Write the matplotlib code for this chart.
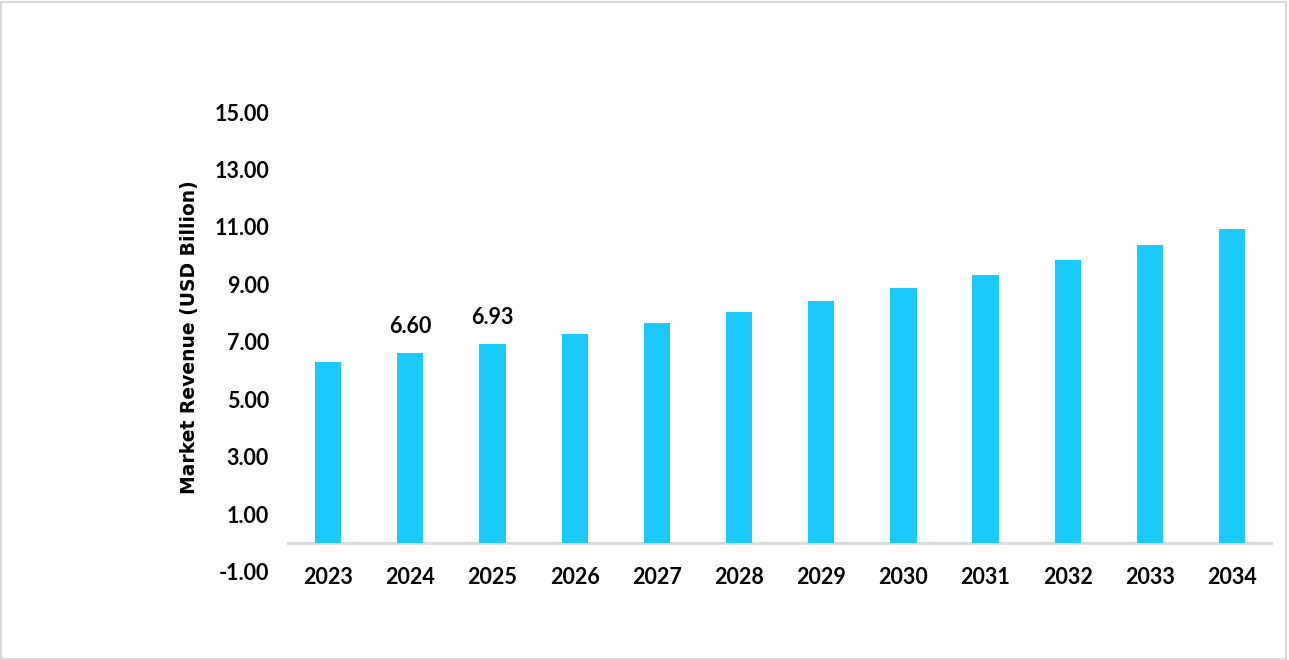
import matplotlib.pyplot as plt
from matplotlib.patches import Rectangle

# Chart data
years = ['2023', '2024', '2025', '2026', '2027', '2028',
         '2029', '2030', '2031', '2032', '2033', '2034']
revenue = [6.30, 6.60, 6.93, 7.27, 7.65, 8.04, 8.42, 8.87, 9.33, 9.85, 10.37, 10.93]
labelled = ['2024', '2025']
y_ticks = [-1, 1, 3, 5, 7, 9, 11, 13, 15]

bar_color = '#1CC9FC'
grey = '#D9D9D9'

plt.rcParams['font.family'] = ['Lato', 'DejaVu Sans']

fig = plt.figure(figsize=(12.89, 6.60), dpi=100)
ax = fig.add_axes([0.2227, 0.1342, 0.765, 0.696])

x = range(len(years))
bars = ax.bar(x, revenue, width=0.32, color=bar_color, zorder=2)

# Value labels on selected bars
for rect, year, val in zip(bars, years, revenue):
    if year in labelled:
        ax.annotate(f'{val:.2f}', (rect.get_x() + rect.get_width() / 2, val),
                    xytext=(0, 19), textcoords='offset points',
                    ha='center', va='center', fontsize=15.5, fontweight='bold')

ax.set_xlim(-0.5, len(years) - 0.5)
ax.set_ylim(-1, 15)
ax.set_yticks(y_ticks)
ax.set_yticklabels([f'{t:.2f}' for t in y_ticks])
ax.set_xticks(list(x))
ax.set_xticklabels(years)

# Baseline at zero
ax.axhline(0, color=grey, linewidth=2, zorder=1)

for s in ax.spines.values():
    s.set_visible(False)
ax.tick_params(axis='both', length=0, labelsize=15.5)
ax.tick_params(axis='y', pad=13)
ax.tick_params(axis='x', pad=-3)
for lbl in ax.get_xticklabels() + ax.get_yticklabels():
    lbl.set_fontweight('bold')

ax.set_ylabel('Market Revenue (USD Billion)', fontsize=13.5, fontweight='bold',
              family=['DejaVu Sans'])
ax.yaxis.set_label_coords(-0.089, 0.51)

# Figure border
fig.patches.append(Rectangle((0.001, 0.002), 0.997, 0.995, transform=fig.transFigure,
                             fill=False, edgecolor=grey, linewidth=1.5))

fig.savefig('out.png', dpi=100)
